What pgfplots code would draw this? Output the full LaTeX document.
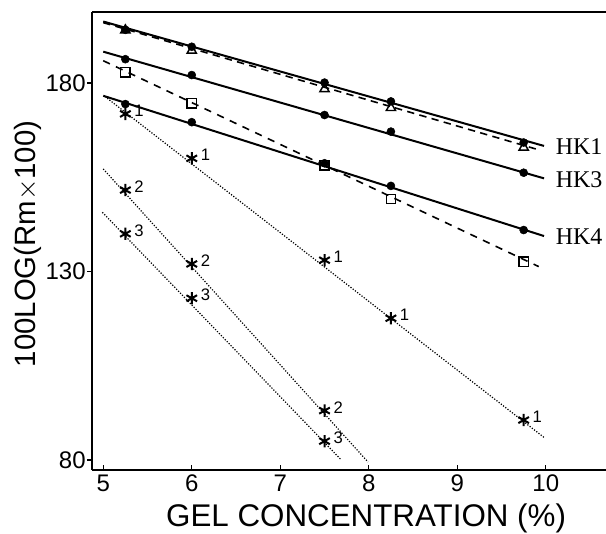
\documentclass[border=0pt]{standalone}
\usepackage{fontspec}
\setmainfont{Liberation Sans}
\newfontfamily\seriffont{Liberation Serif}
\usepackage{pgfplots}
\pgfplotsset{compat=1.18}

\begin{document}
\begin{tikzpicture}
  \begin{axis}[
    scale only axis,
    width=385.3pt, height=343.3pt,
    xmin=4.876, xmax=10.68,
    ymin=77.35, ymax=198.75,
    axis x line=box, axis y line=left,
    axis line style={-, line width=1.2pt},
    xtick={5,6,7,8,9,10}, ytick={80,130,180},
    xtick pos=left, ytick pos=left,
    xtick align=inside, ytick align=outside,
    major tick length=3.75pt,
    tick style={line width=0.9pt, black},
    /pgf/number format/assume math mode=true,
    ticklabel style={font=\fontsize{18}{20}\selectfont},
    yticklabel style={inner sep=1pt},
    xlabel={GEL CONCENTRATION (\%)},
    ylabel={100LOG(Rm$\times$100)},
    xlabel style={at={(axis description cs:0.533,-0.064)}, anchor=north,
      font=\fontsize{23.5}{26}\selectfont},
    ylabel style={at={(axis description cs:-0.09,0.494)}, anchor=south,
      font=\fontsize{22}{24}\selectfont},
    clip=false,
  ]
  % regression lines
  \addplot[black, line width=1.5pt] coordinates {(5.0,196.3) (9.98,163.3)};
  \addplot[black, line width=1.2pt, dash pattern=on 5.5pt off 4pt] coordinates {(5.0,196.0) (9.93,162.2)};
  \addplot[black, line width=1.5pt] coordinates {(5.0,188.3) (9.98,154.7)};
  \addplot[black, line width=1.2pt, dash pattern=on 5.5pt off 5pt] coordinates {(5.0,185.9) (9.92,131.3)};
  \addplot[black, line width=1.5pt] coordinates {(5.0,176.6) (9.98,139.4)};
  \addplot[black, line width=0.9pt, dash pattern=on 0.9pt off 1.2pt] coordinates {(5.02,176.4) (9.99,85.8)};
  \addplot[black, line width=0.9pt, dash pattern=on 0.9pt off 1.2pt] coordinates {(5.0,157.2) (7.99,79.5)};
  \addplot[black, line width=0.9pt, dash pattern=on 0.9pt off 1.2pt] coordinates {(4.99,145.7) (7.69,80.0)};

  % open markers
  \addplot[only marks, mark=triangle, mark size=4pt, line width=1.1pt, black,
    mark options={fill=white}]
    coordinates {(5.25,194.0) (6,188.6) (7.5,178.4) (8.25,173.4) (9.75,162.9)};
  \addplot[only marks, mark=square, mark size=3.5pt, line width=1.1pt, black,
    mark options={fill=white}]
    coordinates {(5.25,182.8) (6,174.6) (7.5,158.2) (8.25,149.2) (9.75,132.6)};

  % filled circles
  \addplot[only marks, mark=*, mark size=3pt, black]
    coordinates {(5.25,194.1) (6,189.6) (7.5,180.1) (8.25,175.1) (9.75,164.2)};
  \addplot[only marks, mark=*, mark size=3pt, black]
    coordinates {(5.25,186.3) (6,182.1) (7.5,171.5) (8.25,167.1) (9.75,156.2)};
  \addplot[only marks, mark=*, mark size=3pt, black]
    coordinates {(5.25,174.4) (6,169.6) (7.5,158.7) (8.25,152.7) (9.75,141.0)};

  % stars with numbers
  \addplot[only marks, mark=asterisk, mark size=4.6pt, line width=1.5pt, black,
    nodes near coords, point meta=explicit symbolic,
    every node near coord/.style={anchor=west, inner sep=0pt, xshift=6pt,
      yshift=2.5pt, font=\fontsize{12.5}{14}\selectfont}]
    table[meta=l] {
      x y l
      5.25 171.8 1
      6 160.0 1
      7.5 133.0 1
      8.25 117.6 1
      9.75 90.6 1
      5.25 151.6 2
      6 132.0 2
      7.5 93.1 2
      5.25 140.0 3
      6 122.9 3
      7.5 85.0 3
    };

  \node[anchor=west, inner sep=0pt, font=\seriffont\fontsize{18}{20}\selectfont] at (axis cs:10.11,163.1) {HK1};
  \node[anchor=west, inner sep=0pt, font=\seriffont\fontsize{18}{20}\selectfont] at (axis cs:10.11,154.3) {HK3};
  \node[anchor=west, inner sep=0pt, font=\seriffont\fontsize{18}{20}\selectfont] at (axis cs:10.11,139.2) {HK4};
  \end{axis}
  \pgfresetboundingbox
  \path (current axis.south west) ++(-69.2pt,-47.25pt) coordinate (bl);
  \path (current axis.north east) ++(0pt,9.2pt) coordinate (tr);
  \path[use as bounding box] (bl) rectangle (tr);
\end{tikzpicture}
\end{document}
